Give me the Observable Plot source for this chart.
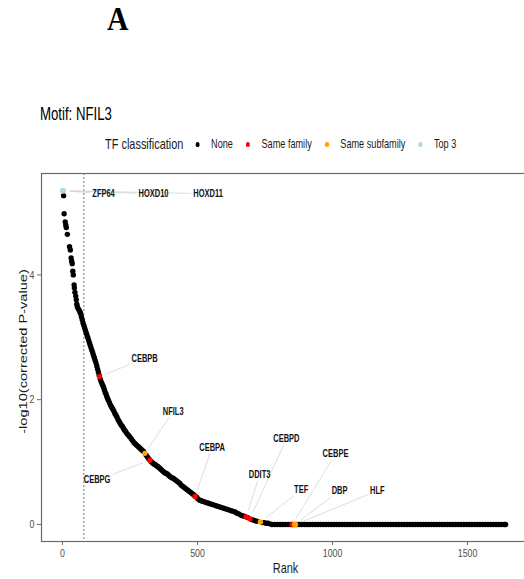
<!DOCTYPE html>
<html><head><meta charset="utf-8">
<script src="https://cdn.jsdelivr.net/npm/d3@7"></script>
<script src="https://cdn.jsdelivr.net/npm/@observablehq/plot@0.6"></script>
<style>
html,body{margin:0;padding:0;background:#fff;overflow:hidden;width:524px;height:579px}
body{position:relative;font-family:"Liberation Sans",Arial,sans-serif;}
#panelA{position:absolute;left:107px;top:3px;font-family:"Liberation Serif","Times New Roman",serif;font-weight:bold;font-size:33px;line-height:1;color:#000;transform:scaleX(0.9);transform-origin:left top}
#title{position:absolute;left:40px;top:105.6px;font-size:17.6px;line-height:1;color:#000;transform:scaleX(0.75);transform-origin:left top;white-space:nowrap}
#legend{position:absolute;left:105px;top:135.5px;height:18px;display:flex;align-items:center;line-height:1;white-space:nowrap;transform:scaleX(0.75);transform-origin:left top}
#legend .lt{font-size:14.6px;color:#1a1a1a;margin-right:16px}
#legend .sw{width:5.6px;height:4.2px;border-radius:50%;margin-right:15.2px}
#legend .lb{font-size:12.2px;color:#1a1a1a;margin-right:17.3px}
#chart{position:absolute;left:0;top:160px}
#chart svg{max-width:none !important;}
</style></head>
<body>
<div id="panelA">A</div>
<div id="title">Motif: NFIL3</div>
<div id="legend"></div>
<div id="chart"></div>
<script>
// ---------- DATA ----------
const classes = ["None", "Same family", "Same subfamily", "Top 3"];
const classColors = ["#000000", "#FF0000", "#FFA500", "#ADD8E6"];

// ranked TFs without classification (sampled along the curve)
const noneRanks = [4,6,10,12,14,18,26,29,32,34,36,38,40,43,44,46,49,51,53,55,58,61,64,67,70,73,76,79,82,85,88,91,94,97,100,103,106,109,112,115,118,121,124,127,130,133,136,140,143,146,149,152,155,158,161,164,167,170,174,178,182,186,190,194,198,202,206,210,214,218,222,226,230,234,238,242,246,250,255,260,265,270,275,280,285,290,295,300,310,315,320,328,333,338,343,348,353,358,363,368,373,378,383,388,393,398,404,410,416,422,428,434,440,446,452,458,464,470,476,482,488,496,502,508,514,520,527,534,541,548,555,562,569,576,583,590,597,604,611,618,625,632,639,646,653,660,667,674,686,700,707,714,721,740,747,754,761,768];
const noneValues = [5.27,4.98,4.85,4.80,4.76,4.65,4.45,4.40,4.27,4.22,4.18,4.06,4.00,3.84,3.79,3.72,3.66,3.60,3.53,3.49,3.46,3.44,3.41,3.38,3.33,3.28,3.23,3.19,3.15,3.11,3.07,3.03,2.99,2.95,2.91,2.87,2.83,2.79,2.75,2.71,2.67,2.63,2.59,2.54,2.49,2.44,2.39,2.33,2.29,2.26,2.23,2.20,2.16,2.12,2.09,2.05,2.02,1.99,1.95,1.91,1.88,1.85,1.82,1.78,1.75,1.72,1.68,1.65,1.62,1.59,1.57,1.54,1.51,1.49,1.46,1.44,1.42,1.40,1.37,1.34,1.31,1.29,1.27,1.25,1.23,1.21,1.19,1.17,1.11,1.08,1.05,1.01,0.99,0.97,0.96,0.94,0.93,0.91,0.89,0.87,0.85,0.83,0.82,0.81,0.79,0.77,0.75,0.74,0.72,0.70,0.68,0.66,0.63,0.61,0.59,0.57,0.55,0.53,0.51,0.49,0.47,0.44,0.41,0.39,0.38,0.37,0.36,0.35,0.34,0.33,0.32,0.31,0.30,0.29,0.28,0.27,0.26,0.25,0.24,0.23,0.22,0.21,0.20,0.18,0.17,0.15,0.14,0.13,0.11,0.08,0.07,0.06,0.05,0.03,0.03,0.02,0.02,0.01];
// tail of the ranking: all at -log10 = 0
const flatRanks = [776,786,796,806,816,826,836,846,856,866,876,886,896,906,916,926,936,946,956,966,976,986,996,1006,1016,1026,1036,1046,1056,1066,1076,1086,1096,1106,1116,1126,1136,1146,1156,1166,1176,1186,1196,1206,1216,1226,1236,1246,1256,1266,1276,1286,1296,1306,1316,1326,1336,1346,1356,1366,1376,1386,1396,1406,1416,1426,1436,1446,1456,1466,1476,1486,1496,1506,1516,1526,1536,1546,1556,1566,1576,1586,1596,1606,1616,1626,1636,1641];
const flatValue = 0;

// labelled TFs
const tfNames   = ["ZFP64","HOXD10","HOXD11","CEBPB","NFIL3","CEBPG","CEBPA","DDIT3","CEBPD","TEF","CEBPE","DBP","HLF"];
const tfRanks   = [1, 2, 3, 137, 305, 324, 491, 680, 694, 733, 851, 860, 863];
const tfValues  = [5.35, 5.35, 5.35, 2.37, 1.14, 1.03, 0.45, 0.12, 0.09, 0.04, 0, 0, 0];
const tfClass   = ["Top 3","Top 3","Top 3","Same family","Same subfamily","Same family","Same family","Same family","Same family","Same subfamily","Same family","Same subfamily","Same subfamily"];
// where the repelled labels sit (data units)
const labelRanks  = [152, 337, 539, 304, 410, 128, 554, 730, 829, 884, 1011, 1026, 1166];
const labelValues = [5.30, 5.30, 5.30, 2.66, 1.81, 0.71, 1.23, 0.79, 1.37, 0.55, 1.13, 0.54, 0.54];

const thresholdRank = 79;
const xTicks = [0, 500, 1000, 1500];
const yTicks = [0, 2, 4];

// ---------- LEGEND ----------
const leg = document.getElementById("legend");
const lt = document.createElement("span"); lt.className = "lt"; lt.textContent = "TF classification"; leg.appendChild(lt);
classes.forEach((c, i) => {
  const sw = document.createElement("span"); sw.className = "sw"; sw.style.background = classColors[i]; leg.appendChild(sw);
  const lb = document.createElement("span"); lb.className = "lb"; lb.textContent = c; leg.appendChild(lb);
});

// ---------- CHART ----------
const FONT = '"Liberation Sans",Arial,sans-serif';
const SQUEEZE = 0.75;
const W = 530, H = 419, mL = 41, mR = 1, mT = 13, mB = 38;
const xDomain = [-77.8, 1729.6];
const yDomain = [-0.273, 5.625];
const LABEL_SIZE = 10, POINT_PAD = 7;

const noneData = noneRanks.map((r, i) => ({rank: r, value: noneValues[i]}))
  .concat(flatRanks.map(r => ({rank: r, value: flatValue})));
const tfData = tfNames.map((n, i) => ({name: n, rank: tfRanks[i], value: tfValues[i], cls: tfClass[i], lr: labelRanks[i], lv: labelValues[i]}));
const tfDraw = tfData.slice().sort((a, b) => (a.cls === "Top 3") - (b.cls === "Top 3"));

const xS = Plot.scale({x: {domain: xDomain, range: [mL, W - mR]}});
const yS = Plot.scale({y: {domain: yDomain, range: [H - mB, mT]}});
const ctx = document.createElement("canvas").getContext("2d");
ctx.font = `bold ${LABEL_SIZE}px ${FONT}`;
const segs = tfData.map(d => {
  const px = xS.apply(d.rank), py = yS.apply(d.value);
  const lx = xS.apply(d.lr), ly = yS.apply(d.lv);
  const hw = ctx.measureText(d.name).width * SQUEEZE / 2 + 2, hh = LABEL_SIZE * 0.4 + 2;
  const dx = px - lx, dy = py - ly, dist = Math.hypot(dx, dy);
  const t = Math.min(Math.abs(dx) > 0 ? hw / Math.abs(dx) : Infinity, Math.abs(dy) > 0 ? hh / Math.abs(dy) : Infinity);
  const ex = lx + dx * t, ey = ly + dy * t;
  const sx = px - dx / dist * POINT_PAD, sy = py - dy / dist * POINT_PAD;
  return {x1: xS.invert(sx), y1: yS.invert(sy), x2: xS.invert(ex), y2: yS.invert(ey)};
});

const chart = Plot.plot({
  width: W, height: H, marginLeft: mL, marginRight: mR, marginTop: mT, marginBottom: mB,
  style: {fontFamily: FONT, background: "transparent", overflow: "visible", maxWidth: "none"},
  x: {domain: xDomain},
  y: {domain: yDomain},
  color: {domain: classes, range: classColors},
  marks: [
    Plot.ruleX([thresholdRank], {stroke: "#8c8c8c", strokeWidth: 1.2, strokeDasharray: "2,2"}),
    Plot.dot(noneData, {x: "rank", y: "value", r: 2.7, fill: classColors[0], stroke: null}),
    Plot.dot(tfDraw, {x: "rank", y: "value", r: 2.7, fill: "cls", stroke: null}),
    Plot.link(segs, {x1: "x1", y1: "y1", x2: "x2", y2: "y2", stroke: "#cfcfcf", strokeWidth: 0.7}),
    Plot.text(tfData, {x: "lr", y: "lv", text: "name", fontWeight: "bold", fontSize: LABEL_SIZE, fill: "#111", textAnchor: "middle", lineAnchor: "middle"}),
    Plot.frame({stroke: "#6b6b6b", strokeWidth: 1.2}),
    Plot.axisX({ticks: xTicks, tickFormat: d => String(d), tickSize: 4, tickPadding: 3, fontSize: 11.7, label: null, stroke: "#6b6b6b", fill: "#4d4d4d"}),
    Plot.axisY({ticks: yTicks, tickFormat: d => String(d), tickSize: 4, tickPadding: 3, fontSize: 11.7, label: null, stroke: "#6b6b6b", fill: "#4d4d4d"}),
    Plot.text(["Rank"], {frameAnchor: "bottom", dy: 27, fontSize: 14.6, textAnchor: "middle", lineAnchor: "middle", fill: "#1a1a1a"}),
    Plot.text(["-log10(corrected P-value)"], {frameAnchor: "left", rotate: -90, dx: -18, dy: -6, fontSize: 14.6, textAnchor: "middle", lineAnchor: "middle", fill: "#1a1a1a"})
  ]
});

// the reference image is horizontally compressed: squeeze every text horizontally about its anchor
chart.querySelectorAll("text").forEach(t => {
  let tr = t.getAttribute("transform") || "";
  if (!tr) {
    const x = t.getAttribute("x"), y = t.getAttribute("y");
    tr = `translate(${x || 0},${y || 0})`;
    t.removeAttribute("x"); t.removeAttribute("y");
  }
  t.setAttribute("transform", tr + (tr.includes("rotate") ? ` scale(1,${SQUEEZE})` : ` scale(${SQUEEZE},1)`));
});
document.getElementById("chart").appendChild(chart);
</script>
</body></html>
